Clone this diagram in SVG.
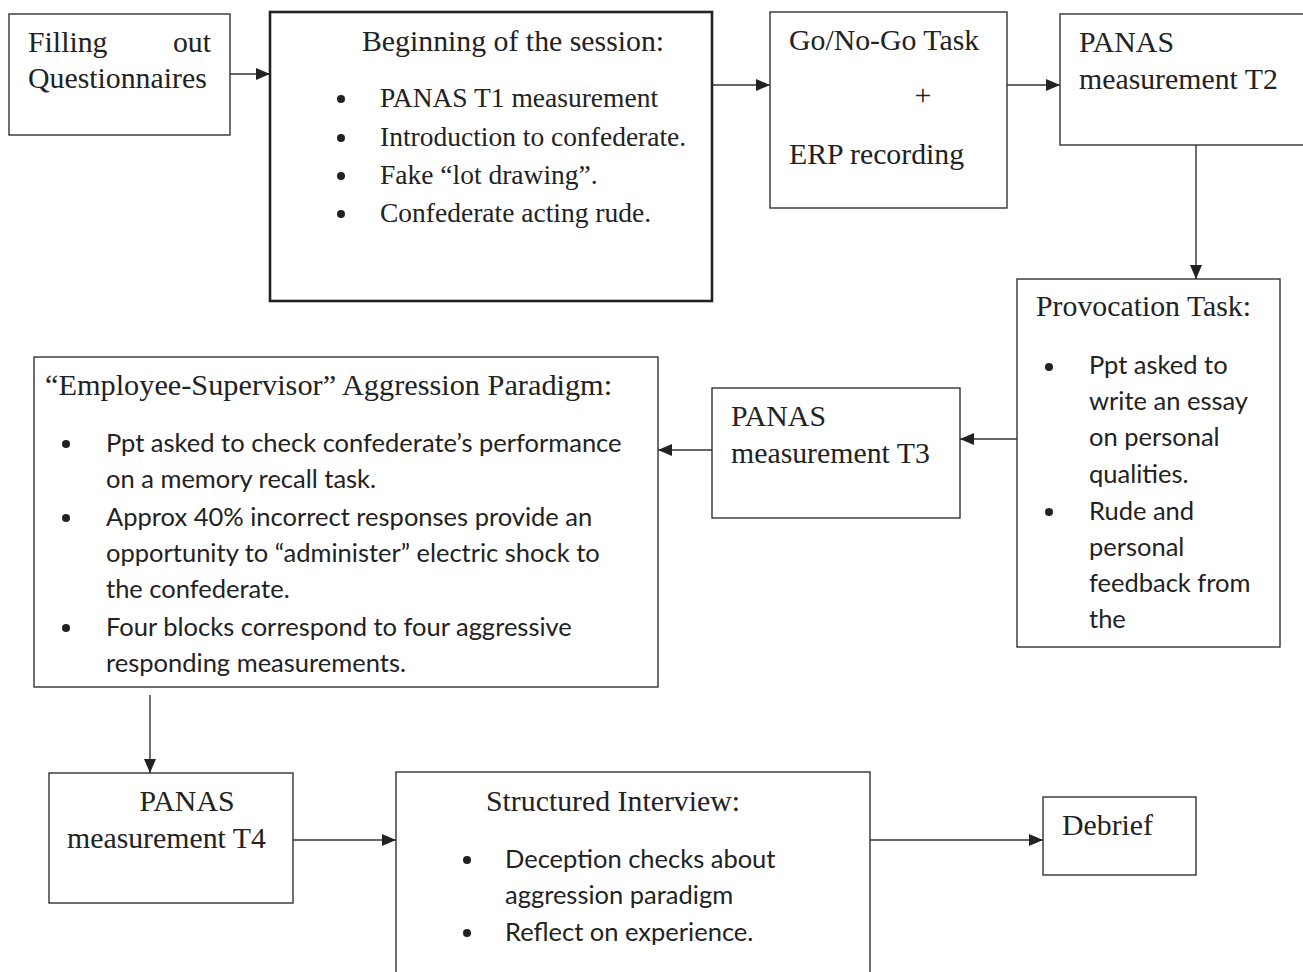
<svg xmlns="http://www.w3.org/2000/svg" width="1303" height="972" viewBox="0 0 1303 972">
<style>
.box{fill:#fff;stroke:#333;stroke-width:1.4}
.thick{fill:#fff;stroke:#222;stroke-width:2.6}
.t{font-family:"Liberation Serif","Times New Roman",serif;font-size:29.8px;fill:#222}
.ts{font-size:27.5px}
.c{font-family:Lato,"Liberation Sans",sans-serif;font-size:25.5px;fill:#222}
.ln{stroke:#333;stroke-width:1.4;fill:none;marker-end:url(#ah)}
.dot{fill:#222}
</style>
<defs>
<marker id="ah" viewBox="0 0 14 12" refX="14" refY="6" markerWidth="14" markerHeight="12" markerUnits="userSpaceOnUse" orient="auto">
<path d="M0,0 L14,6 L0,12 Z" fill="#222"/>
</marker>
</defs>
<g id="connectors">
<line class="ln" x1="230" y1="74" x2="270" y2="74"/>
<line class="ln" x1="712" y1="85" x2="770" y2="85"/>
<line class="ln" x1="1007" y1="85" x2="1060" y2="85"/>
<line class="ln" x1="1196" y1="145" x2="1196" y2="279"/>
<line class="ln" x1="1017" y1="439" x2="960" y2="439"/>
<line class="ln" x1="712" y1="450" x2="658" y2="450"/>
<line class="ln" x1="150" y1="695" x2="150" y2="773"/>
<line class="ln" x1="293" y1="840" x2="396" y2="840"/>
<line class="ln" x1="870" y1="840" x2="1043" y2="840"/>
</g>
<g id="filling">
<rect class="box" x="9" y="14" width="221" height="121"/>
<text class="t" x="28" y="52">Filling</text>
<text class="t" x="211" y="52" text-anchor="end">out</text>
<text class="t" x="28" y="88">Questionnaires</text>
</g>
<g id="beginning">
<rect class="thick" x="270" y="12" width="442" height="289"/>
<text class="t" x="362" y="51">Beginning of the session:</text>
<circle class="dot" cx="341" cy="99" r="4"/>
<circle class="dot" cx="341" cy="138" r="4"/>
<circle class="dot" cx="341" cy="176" r="4"/>
<circle class="dot" cx="341" cy="214" r="4"/>
<text class="t ts" x="380" y="107">PANAS T1 measurement</text>
<text class="t ts" x="380" y="146">Introduction to confederate.</text>
<text class="t ts" x="380" y="184">Fake “lot drawing”.</text>
<text class="t ts" x="380" y="222">Confederate acting rude.</text>
</g>
<g id="gonogo">
<rect class="box" x="770" y="12" width="237" height="196"/>
<text class="t" x="789" y="50">Go/No-Go Task</text>
<text class="t" x="923" y="105" text-anchor="middle">+</text>
<text class="t" x="789" y="164">ERP recording</text>
</g>
<g id="panas2">
<rect class="box" x="1060" y="14" width="245" height="131"/>
<text class="t" x="1079" y="52">PANAS</text>
<text class="t" x="1079" y="89">measurement T2</text>
</g>
<g id="provocation">
<rect class="box" x="1017" y="279" width="263" height="368"/>
<text class="t" x="1036" y="316">Provocation Task:</text>
<circle class="dot" cx="1049" cy="367" r="4"/>
<circle class="dot" cx="1049" cy="512" r="4"/>
<text class="c" x="1089" y="374">Ppt asked to</text>
<text class="c" x="1089" y="410">write an essay</text>
<text class="c" x="1089" y="446">on personal</text>
<text class="c" x="1089" y="483">qualities.</text>
<text class="c" x="1089" y="520">Rude and</text>
<text class="c" x="1089" y="556">personal</text>
<text class="c" x="1089" y="592">feedback from</text>
<text class="c" x="1089" y="628">the</text>
</g>
<g id="panas3">
<rect class="box" x="712" y="388" width="248" height="130"/>
<text class="t" x="731" y="426">PANAS</text>
<text class="t" x="731" y="463">measurement T3</text>
</g>
<g id="employee">
<rect class="box" x="34" y="357" width="624" height="330"/>
<text class="t" x="45" y="395" style="font-size:30.3px">“Employee-Supervisor” Aggression Paradigm:</text>
<circle class="dot" cx="66" cy="444" r="4"/>
<circle class="dot" cx="66" cy="518" r="4"/>
<circle class="dot" cx="66" cy="628" r="4"/>
<text class="c" x="106" y="452">Ppt asked to check confederate’s performance</text>
<text class="c" x="106" y="488">on a memory recall task.</text>
<text class="c" x="106" y="526">Approx 40% incorrect responses provide an</text>
<text class="c" x="106" y="562">opportunity to “administer” electric shock to</text>
<text class="c" x="106" y="598">the confederate.</text>
<text class="c" x="106" y="636">Four blocks correspond to four aggressive</text>
<text class="c" x="106" y="672">responding measurements.</text>
</g>
<g id="panas4">
<rect class="box" x="49" y="773" width="244" height="130"/>
<text class="t" x="187" y="811" text-anchor="middle">PANAS</text>
<text class="t" x="67" y="848">measurement T4</text>
</g>
<g id="interview">
<rect class="box" x="396" y="772" width="474" height="210"/>
<text class="t" x="486" y="811">Structured Interview:</text>
<circle class="dot" cx="467" cy="860" r="4"/>
<circle class="dot" cx="467" cy="933" r="4"/>
<text class="c" x="505" y="868">Deception checks about</text>
<text class="c" x="505" y="904">aggression paradigm</text>
<text class="c" x="505" y="941">Reflect on experience.</text>
</g>
<g id="debrief">
<rect class="box" x="1043" y="797" width="153" height="78"/>
<text class="t" x="1062" y="835">Debrief</text>
</g>
</svg>
